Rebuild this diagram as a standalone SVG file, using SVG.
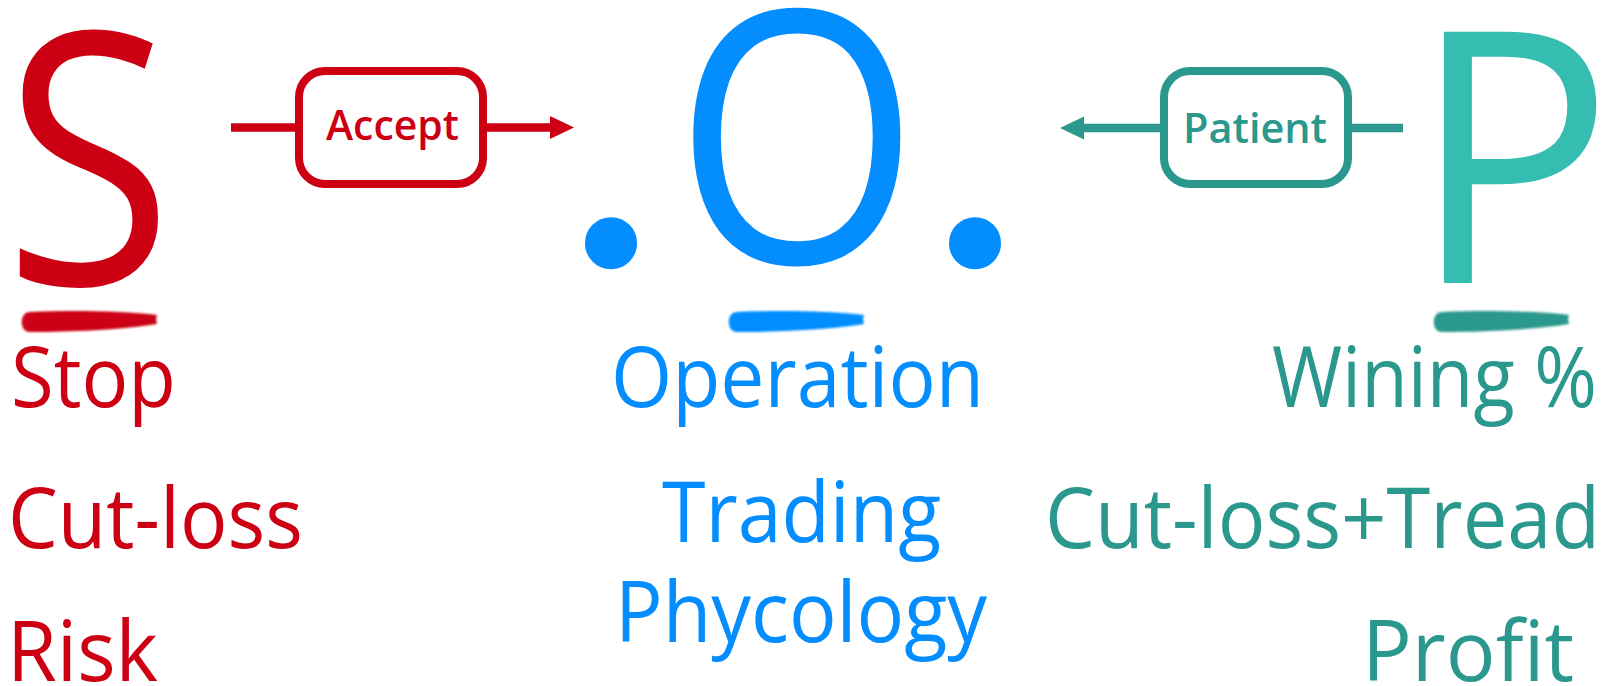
<svg xmlns="http://www.w3.org/2000/svg" width="1608" height="686" viewBox="0 0 1608 686">
  <style>
    text { font-family: "Open Sans", "Noto Sans", "DejaVu Sans", sans-serif; }
    .big { font-size: 352px; }
    .dot { font-family: "Liberation Serif", "Times New Roman", serif; font-size: 440px; }
    .lbl { font-size: 85px; }
    .box-lbl { font-size: 42px; font-weight: 600; }
    .red { fill: #CC0012; }
    .blue { fill: #038DFF; }
    .teal { fill: #2A988C; }
    .teal-lt { fill: #36BDB2; }
    .box { fill: #FFFFFF; stroke-width: 8; }
    .conn { fill: none; stroke-width: 8.5; }
  </style>
  <defs>
    <filter id="soft" x="-5%" y="-30%" width="110%" height="160%">
      <feGaussianBlur stdDeviation="0.8"/>
    </filter>
    <path id="brush" d="M 10 2 C 50 0 105 1 137 5 L 136 9 L 137 14 C 100 20 50 22 10 22 C -1 22 -1 2 10 2 Z" filter="url(#soft)"/>
    <marker id="arrowRed" markerUnits="userSpaceOnUse" markerWidth="26" markerHeight="24" refX="2" refY="11.5" orient="auto">
      <path d="M0,0 L24,11.5 L0,23 Z" fill="#CC0012"/>
    </marker>
    <marker id="arrowTeal" markerUnits="userSpaceOnUse" markerWidth="26" markerHeight="24" refX="2" refY="11.5" orient="auto">
      <path d="M0,0 L24,11.5 L0,23 Z" fill="#2A988C"/>
    </marker>
  </defs>

  <g id="connectors">
    <line class="conn" x1="231" y1="127.5" x2="299" y2="127.5" stroke="#CC0012"/>
    <line class="conn" x1="483" y1="127.5" x2="552" y2="127.5" stroke="#CC0012" marker-end="url(#arrowRed)"/>
    <line class="conn" x1="1403" y1="128" x2="1352" y2="128" stroke="#2A988C"/>
    <line class="conn" x1="1164" y1="128" x2="1082" y2="128" stroke="#2A988C" marker-end="url(#arrowTeal)"/>
  </g>

  <g id="node-S">
    <text class="big red" transform="translate(4,284.5) scale(0.874,1)">S</text>
    <use href="#brush" x="20" y="310" fill="#CC0012"/>
    <text class="lbl red" x="11" y="407" textLength="165" lengthAdjust="spacingAndGlyphs">Stop</text>
    <text class="lbl red" x="8" y="548" textLength="295" lengthAdjust="spacingAndGlyphs">Cut-loss</text>
    <text class="lbl red" x="7" y="681" textLength="151" lengthAdjust="spacingAndGlyphs">Risk</text>
  </g>

  <g id="node-O">
    <text class="dot blue" x="611" y="263" text-anchor="middle">.</text>
    <text class="big blue" transform="translate(674,263) scale(0.897,1)">O</text>
    <text class="dot blue" x="975" y="263" text-anchor="middle">.</text>
    <use href="#brush" x="727" y="310" fill="#038DFF"/>
    <text class="lbl blue" x="611" y="407" textLength="373" lengthAdjust="spacingAndGlyphs">Operation</text>
    <text class="lbl blue" x="662" y="542" textLength="279" lengthAdjust="spacingAndGlyphs">Trading</text>
    <text class="lbl blue" x="615" y="642" textLength="372" lengthAdjust="spacingAndGlyphs">Phycology</text>
  </g>

  <g id="node-P">
    <text class="big teal-lt" transform="translate(1411,283) scale(0.957,1)">P</text>
    <use href="#brush" x="1432" y="310" fill="#2A988C"/>
    <text class="lbl teal" x="1272" y="407" textLength="325" lengthAdjust="spacingAndGlyphs">Wining %</text>
    <text class="lbl teal" x="1045" y="548" textLength="555" lengthAdjust="spacingAndGlyphs">Cut-loss+Tread</text>
    <text class="lbl teal" x="1362" y="681" textLength="212" lengthAdjust="spacingAndGlyphs">Profit</text>
  </g>

  <g id="node-accept">
    <rect class="box" x="299" y="71" width="184" height="113" rx="26" stroke="#CC0012"/>
    <text class="box-lbl red" x="326" y="140" textLength="133" lengthAdjust="spacingAndGlyphs">Accept</text>
  </g>

  <g id="node-patient">
    <rect class="box" x="1164" y="71" width="184" height="113" rx="26" stroke="#2A988C"/>
    <text class="box-lbl teal" x="1183" y="143" textLength="144" lengthAdjust="spacingAndGlyphs">Patient</text>
  </g>
</svg>
